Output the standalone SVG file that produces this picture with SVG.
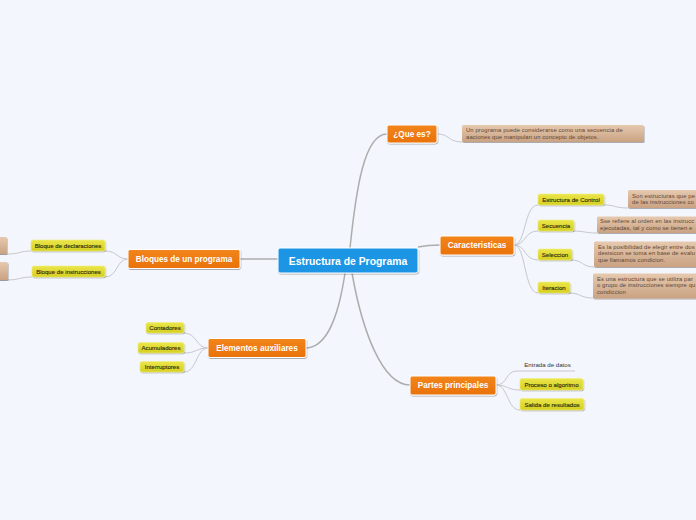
<svg xmlns="http://www.w3.org/2000/svg" width="696" height="520" viewBox="0 0 696 520">
<defs>
<linearGradient id="gOr" x1="0" y1="0" x2="0" y2="1"><stop offset="0" stop-color="#f2851c"/><stop offset="1" stop-color="#e9720a"/></linearGradient>
<linearGradient id="gYe" x1="0" y1="0" x2="0" y2="1"><stop offset="0" stop-color="#ebe64a"/><stop offset="1" stop-color="#d5cf22"/></linearGradient>
<linearGradient id="gNo" x1="0" y1="0" x2="0" y2="1"><stop offset="0" stop-color="#e6c9af"/><stop offset="1" stop-color="#c9a282"/></linearGradient>
<filter id="sh" x="-10%" y="-20%" width="120%" height="160%"><feDropShadow dx="0.6" dy="1" stdDeviation="0.7" flood-color="#000" flood-opacity="0.3"/></filter>
</defs>
<style>
.main{fill:url(#gOr);stroke:#fff;stroke-width:1;filter:url(#sh)}
.yel{fill:url(#gYe);stroke:#f1ee80;stroke-width:0.6;filter:url(#sh)}
.note{fill:url(#gNo);filter:url(#sh)}
.mt{font-family:"Liberation Sans",Arial,sans-serif;font-weight:bold;font-size:8.2px;fill:#fff;text-anchor:middle}
.yt{font-family:"Liberation Sans",Arial,sans-serif;font-size:6.1px;fill:#2a2a10;text-anchor:middle;stroke:#2a2a10;stroke-width:0.12}
.et{font-family:"Liberation Sans",Arial,sans-serif;font-size:6.1px;fill:#333;text-anchor:middle}
.nt{font-family:"Liberation Sans",Arial,sans-serif;font-size:5.9px;letter-spacing:0.1px;fill:#5e4634}
.c1{fill:none;stroke:#adadad;stroke-width:1.5}
.c2{fill:none;stroke:#c8c8cc;stroke-width:1}
</style>
<rect width="696" height="520" fill="#f3f6fd"/>
<g id="connectors">
<path class="c1" d="M350,248 C356,190 364,134 387,134"/>
<path class="c1" d="M418,247 C428,245 432,245 440,245"/>
<path class="c1" d="M278,259 L240,259"/>
<path class="c1" d="M345,273 C338,320 326,348 305,348"/>
<path class="c1" d="M352,273 C362,330 382,385 410,385"/>
<path class="c2" d="M437,134 C450,134 448,142 462,142"/>
<path class="c2" d="M514,245 C526,245 524,205 538,205"/>
<path class="c2" d="M514,245 C526,245 524,231 538,231"/>
<path class="c2" d="M514,245 C526,245 524,260 538,260"/>
<path class="c2" d="M514,245 C526,245 524,293 538,293"/>
<path class="c2" d="M604,205 C616,205 614,208 628,208"/>
<path class="c2" d="M573,231 C585,231 584,233 597,233"/>
<path class="c2" d="M571,260 C583,260 582,267 594,267"/>
<path class="c2" d="M569,293 C581,293 580,298 593,298"/>
<path class="c2" d="M128,259 C116,259 118,251 105,251"/>
<path class="c2" d="M128,259 C116,259 118,277 105,277"/>
<path class="c2" d="M31,251 C20,251 20,254 7,254 L0,254"/>
<path class="c2" d="M32,277 C20,277 19,280 7,280 L0,280"/>
<path class="c2" d="M208,348 C196,348 197,333 184,333"/>
<path class="c2" d="M208,348 C196,348 197,353 184,353"/>
<path class="c2" d="M208,348 C196,348 197,372 184,372"/>
<path class="c2" d="M496,385 C508,385 505,371 517,371 L575,371"/>
<path class="c2" d="M496,385 C508,385 507,390 520,390"/>
<path class="c2" d="M496,385 C508,385 507,410 520,410"/>
</g>
<g id="central">
<rect x="278" y="248" width="140" height="25" rx="2" fill="#1b96e4" stroke="#fff" stroke-width="1" filter="url(#sh)"/>
<text x="348" y="264.5" font-family="Liberation Sans,Arial,sans-serif" font-weight="bold" font-size="10.4" fill="#fff" text-anchor="middle">Estructura de Programa</text>
</g>
<g id="que-es">
<rect class="main" x="387" y="125" width="50" height="18" rx="2"/>
<text class="mt" x="412" y="136.8">¿Que es?</text>
</g>
<g id="note-que-es">
<rect class="note" x="462" y="125" width="182" height="17" rx="1.5"/>
<text class="nt" x="466" y="132.2">Un programa puede considerarse como una secuencia de</text>
<text class="nt" x="466" y="138.8">aaciones que manipulan un concepto de objetos.</text>
</g>
<g id="caracteristicas">
<rect class="main" x="440" y="236" width="74" height="19" rx="2"/>
<text class="mt" x="477" y="248.3">Caracteristicas</text>
</g>
<g id="estructura-control">
<rect class="yel" x="538" y="194" width="66" height="11" rx="2"/>
<text class="yt" x="571" y="201.8">Estructura de Control</text>
</g>
<g id="note-control">
<rect class="note" x="628" y="190" width="80" height="18" rx="1.5"/>
<text class="nt" x="632" y="197.5">Son estructuras que pe</text>
<text class="nt" x="632" y="204.2">de las instrucciones co</text>
</g>
<g id="secuencia">
<rect class="yel" x="538" y="220" width="36" height="11" rx="2"/>
<text class="yt" x="556" y="227.8">Secuencia</text>
</g>
<g id="note-secuencia">
<rect class="note" x="597" y="216.5" width="110" height="16.5" rx="1.5"/>
<text class="nt" x="600" y="223.3">Sse refiere al orden en las instrucc</text>
<text class="nt" x="600" y="229.8">ejecutadas, tal y como se tienen e</text>
</g>
<g id="seleccion">
<rect class="yel" x="538" y="249" width="34" height="11" rx="2"/>
<text class="yt" x="555" y="256.8">Seleccion</text>
</g>
<g id="note-seleccion">
<rect class="note" x="594" y="241.5" width="112" height="25.5" rx="1.5"/>
<text class="nt" x="598" y="248.6">Es la posibilidad de elegir entre dos</text>
<text class="nt" x="598" y="255.2">desisicon se toma en base de evalu</text>
<text class="nt" x="598" y="261.8">que llamamos condicion.</text>
</g>
<g id="iteracion">
<rect class="yel" x="538" y="282" width="32" height="11" rx="2"/>
<text class="yt" x="554" y="289.8">Iteracion</text>
</g>
<g id="note-iteracion">
<rect class="note" x="593" y="273.5" width="113" height="25" rx="1.5"/>
<text class="nt" x="597" y="280.6">Es una estructura que se utiliza par</text>
<text class="nt" x="597" y="287.2">o grupo de instrucciones siempre qu</text>
<text class="nt" x="597" y="293.8">condiccion</text>
</g>
<g id="bloques">
<rect class="main" x="128" y="249.5" width="112" height="19" rx="2"/>
<text class="mt" x="184" y="261.8">Bloques de un programa</text>
</g>
<g id="bloque-declaraciones">
<rect class="yel" x="31" y="240" width="74" height="11" rx="2"/>
<text class="yt" x="68" y="247.8">Bloque de declaraciones</text>
</g>
<g id="note-declaraciones">
<rect class="note" x="-6" y="237" width="13" height="17" rx="1.5"/>
</g>
<g id="bloque-instrucciones">
<rect class="yel" x="32" y="266" width="73" height="11" rx="2"/>
<text class="yt" x="68.5" y="273.8">Bloque de instrucciones</text>
</g>
<g id="note-instrucciones">
<rect class="note" x="-6" y="262" width="14" height="18" rx="1.5"/>
</g>
<g id="elementos">
<rect class="main" x="208" y="338.5" width="98" height="19" rx="2"/>
<text class="mt" x="257" y="350.8">Elementos auxiliares</text>
</g>
<g id="contadores">
<rect class="yel" x="146" y="322.5" width="38" height="10.5" rx="2"/>
<text class="yt" x="165" y="330">Contadores</text>
</g>
<g id="acumuladores">
<rect class="yel" x="138" y="342.5" width="46" height="10.5" rx="2"/>
<text class="yt" x="161" y="350">Acumuladores</text>
</g>
<g id="interruptores">
<rect class="yel" x="140" y="361.5" width="44" height="10.5" rx="2"/>
<text class="yt" x="162" y="369">Interruptores</text>
</g>
<g id="partes">
<rect class="main" x="410" y="376" width="86" height="19" rx="2"/>
<text class="mt" x="453" y="388.3">Partes principales</text>
</g>
<g id="entrada">
<text class="et" x="547.5" y="367.2">Entrada de datos</text>
</g>
<g id="proceso">
<rect class="yel" x="520" y="378.5" width="63" height="11.5" rx="2"/>
<text class="yt" x="551.5" y="386.5">Proceso o algoritmo</text>
</g>
<g id="salida">
<rect class="yel" x="520" y="398.5" width="64" height="11.5" rx="2"/>
<text class="yt" x="552" y="406.5">Salida de resultados</text>
</g>
</svg>
